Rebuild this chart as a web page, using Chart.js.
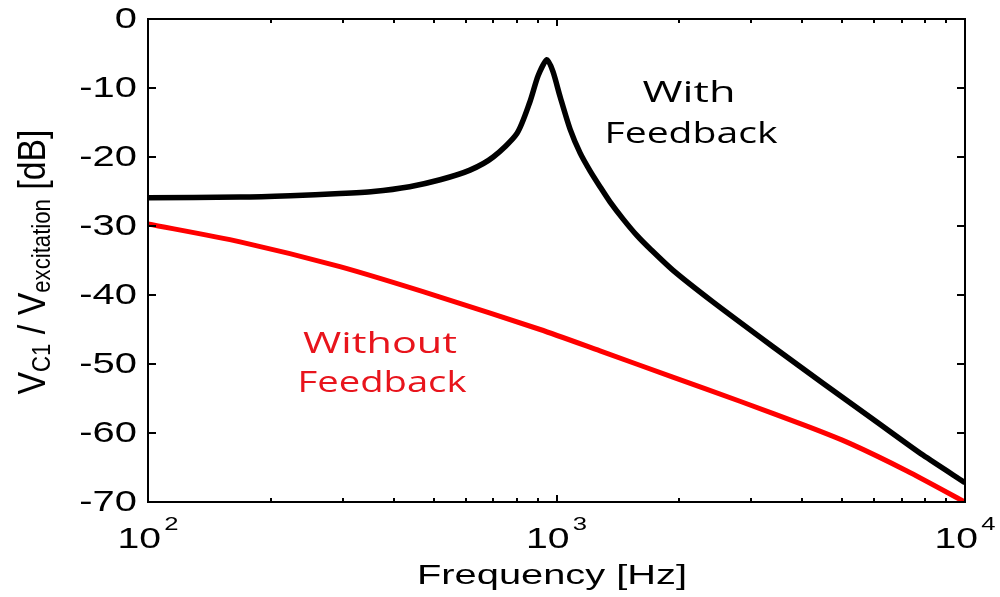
<!DOCTYPE html>
<html>
<head>
<meta charset="utf-8">
<script src="https://cdn.jsdelivr.net/npm/chart.js@4/dist/chart.umd.min.js"></script>
<style>
  html, body { margin: 0; padding: 0; background: #fff; }
  canvas { display: block; }
</style>
</head>
<body>
<canvas id="bode" width="1000" height="597"></canvas>
<script>
// values (Hz / dB)
const freqWith = [100, 168, 223, 295, 356, 437, 519, 614, 700, 800, 861, 902, 948, 980, 1021, 1080, 1142, 1208, 1278, 1352, 1456, 1575, 1694, 1926, 2414, 3388, 4490, 5954, 7889, 10000];
const dbWith   = [-25.9, -25.8, -25.6, -25.3, -25.0, -24.3, -23.3, -21.9, -20.0, -16.6, -12.0, -8.2, -5.9, -7.6, -11.3, -16.0, -19.4, -22.0, -24.3, -26.5, -29.0, -31.4, -33.3, -36.4, -41.0, -47.5, -52.8, -58.0, -63.2, -67.2];

const freqWithout = [100, 168, 295, 519, 912, 1278, 1926, 2812, 4102, 5223, 7210, 10000];
const dbWithout   = [-29.7, -32.3, -35.9, -40.3, -45.0, -48.1, -51.9, -55.4, -59.0, -61.5, -65.5, -70];

const yTicks = [0, -10, -20, -30, -40, -50, -60, -70];
const xDecades = [100, 1000, 10000];
const xExponents = ['2', '3', '4'];

const AXIS_FONT = '"Liberation Sans", Arial, sans-serif';
const NOTE_FONT = '"Open Sans", sans-serif';

function pts(xs, ys){ return xs.map((x, i) => ({x: x, y: ys[i]})); }

// draw text stretched horizontally (reference is widened)
function wideText(ctx, txt, x, y, font, sx, align){
  ctx.save();
  ctx.font = font;
  const w = ctx.measureText(txt).width * sx;
  let left = x;
  if(align === 'center') left = x - w/2;
  else if(align === 'right') left = x - w;
  ctx.translate(left, y);
  ctx.scale(sx, 1);
  ctx.textAlign = 'left';
  ctx.fillText(txt, 0, 0);
  ctx.restore();
}
function fitText(ctx, txt, cx, y, font, width){
  ctx.save();
  ctx.font = font;
  const sx = width / ctx.measureText(txt).width;
  ctx.restore();
  wideText(ctx, txt, cx, y, font, sx, 'center');
}

const framePlugin = {
  id: 'frame',
  beforeDraw(chart){
    const ctx = chart.ctx;
    ctx.save();
    ctx.fillStyle = '#fff';
    ctx.fillRect(0, 0, chart.width, chart.height);
    ctx.restore();
  },
  afterDraw(chart){
    const ctx = chart.ctx, a = chart.chartArea;
    const xs = chart.scales.x, ys = chart.scales.y;
    ctx.save();
    ctx.strokeStyle = '#000';
    ctx.lineWidth = 2;
    ctx.strokeRect(a.left, a.top, a.right - a.left, a.bottom - a.top);

    // y ticks, left and right, pointing inwards
    ctx.beginPath();
    yTicks.forEach(v => {
      const py = Math.round(ys.getPixelForValue(v));
      ctx.moveTo(a.left, py); ctx.lineTo(a.left + 8, py);
      ctx.moveTo(a.right, py); ctx.lineTo(a.right - 8, py);
    });
    // x ticks top and bottom (log minors)
    for(let d = 0; d < xDecades.length; d++){
      const dec = xDecades[d];
      for(let m = 1; m <= 9; m++){
        const f = dec * m;
        if(f > xDecades[xDecades.length - 1]) break;
        const px = Math.round(xs.getPixelForValue(f));
        const len = m === 1 ? 7 : 4;
        ctx.moveTo(px, a.bottom); ctx.lineTo(px, a.bottom - len);
        ctx.moveTo(px, a.top); ctx.lineTo(px, a.top + len);
      }
    }
    ctx.stroke();

    ctx.fillStyle = '#000';
    ctx.textBaseline = 'middle';
    yTicks.forEach(v => {
      wideText(ctx, String(v), 137, ys.getPixelForValue(v) + 1, '30px ' + AXIS_FONT, 1.33, 'right');
    });

    // x tick labels 10^n
    ctx.textBaseline = 'alphabetic';
    xDecades.forEach((v, i) => {
      const px = xs.getPixelForValue(v);
      ctx.font = '29px ' + AXIS_FONT;
      const wb = ctx.measureText('10').width * 1.35;
      ctx.font = '19px ' + AXIS_FONT;
      const we = ctx.measureText(xExponents[i]).width * 1.35;
      const left = px - (wb + 3 + we) / 2;
      wideText(ctx, '10', left, 548, '29px ' + AXIS_FONT, 1.35, 'left');
      wideText(ctx, xExponents[i], left + wb + 3, 530, '19px ' + AXIS_FONT, 1.35, 'left');
    });

    // x title
    fitText(ctx, 'Frequency [Hz]', 552, 584, '27px ' + AXIS_FONT, 270);

    // y title with subscripts, rotated
    const segs = [
      {t: 'V', s: 29, dy: 0},
      {t: 'C1', s: 19, dy: 4},
      {t: ' / V', s: 29, dy: 0},
      {t: 'excitation', s: 19, dy: 4},
      {t: ' [dB]', s: 29, dy: 0}
    ];
    let total = 0;
    segs.forEach(sg => { ctx.font = sg.s + 'px ' + AXIS_FONT; sg.w = ctx.measureText(sg.t).width; total += sg.w; });
    const along = 265 / total;
    ctx.save();
    ctx.translate(45, 262);
    ctx.rotate(-Math.PI / 2);
    ctx.scale(along, 1.35);
    let cx = -total / 2;
    ctx.textAlign = 'left';
    segs.forEach(sg => {
      ctx.font = sg.s + 'px ' + AXIS_FONT;
      ctx.fillText(sg.t, cx, sg.dy);
      cx += sg.w;
    });
    ctx.restore();

    // curve notes
    ctx.textBaseline = 'middle';
    ctx.fillStyle = '#000';
    fitText(ctx, 'With', 689, 94, '29px ' + NOTE_FONT, 93);
    fitText(ctx, 'Feedback', 691, 135, '29px ' + NOTE_FONT, 173);
    ctx.fillStyle = '#e8141c';
    fitText(ctx, 'Without', 380, 345, '29px ' + NOTE_FONT, 154);
    fitText(ctx, 'Feedback', 382, 384, '29px ' + NOTE_FONT, 169);
    ctx.restore();
  }
};

new Chart(document.getElementById('bode'), {
  type: 'line',
  data: {
    datasets: [
      {
        label: 'With Feedback',
        data: pts(freqWith, dbWith),
        borderColor: '#000',
        borderWidth: 5.5,
        pointRadius: 0,
        tension: 0.25
      },
      {
        label: 'Without Feedback',
        data: pts(freqWithout, dbWithout),
        borderColor: '#ff0000',
        borderWidth: 5,
        pointRadius: 0,
        tension: 0.25
      }
    ]
  },
  options: {
    responsive: false,
    animation: false,
    layout: { padding: { left: 148, right: 35, top: 19, bottom: 95 } },
    plugins: { legend: { display: false }, tooltip: { enabled: false } },
    scales: {
      x: { type: 'logarithmic', min: 100, max: 10000, display: false },
      y: { type: 'linear', min: -70, max: 0, display: false }
    }
  },
  plugins: [framePlugin]
});
</script>
</body>
</html>
